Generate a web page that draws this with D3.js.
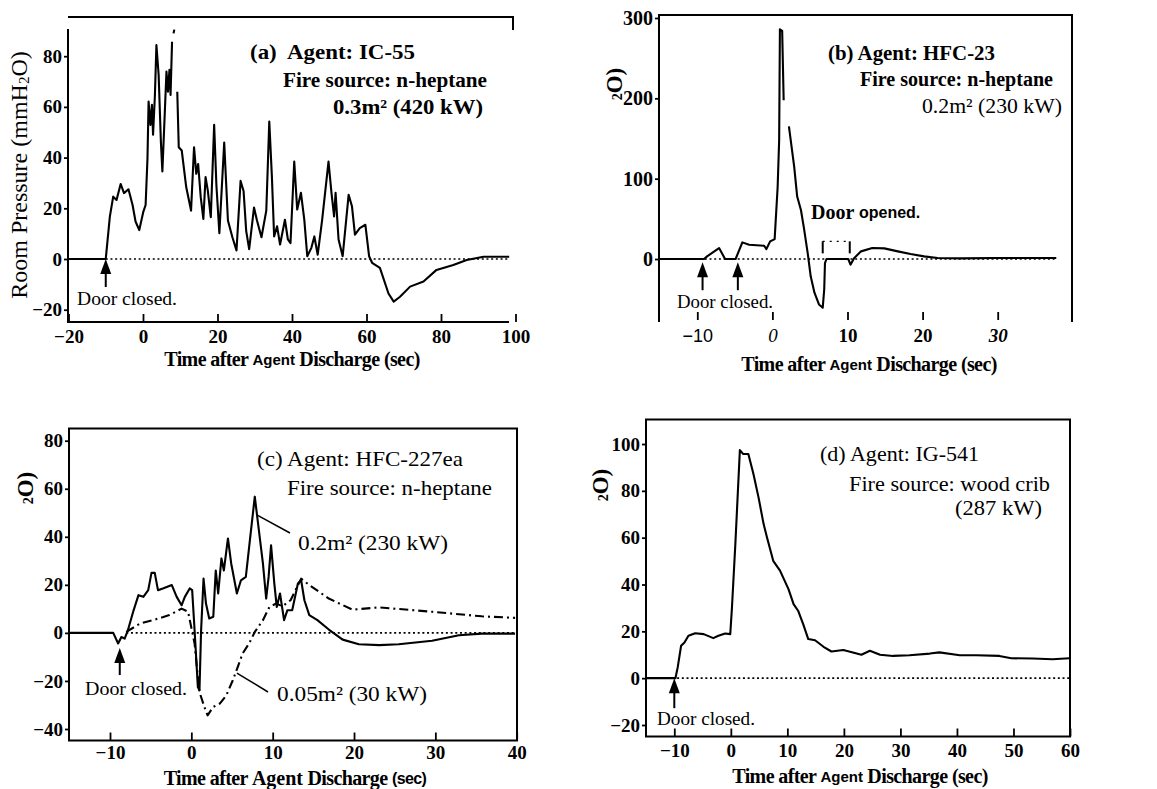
<!DOCTYPE html>
<html>
<head>
<meta charset="utf-8">
<script src="https://cdn.jsdelivr.net/npm/d3@7"></script>
<style>
  body { margin: 0; background: #fff; }
  svg { display: block; background: #fff; }
</style>
</head>
<body>
<svg id="chart" width="1157" height="789"></svg>
<script>
// room pressure traces (time in sec, pressure in mmH2O)

// (a) IG-55, n-heptane 0.3 m2
const timeA = [
  -20, -10, -8.9, -8.0, -7.1, -6.0, -5.1, -3.9, -2.8, -2.0,
  -1.0, 0.1, 0.7, 1.2, 1.5, 2.0, 2.4, 2.7, 3.2, 3.6,
  4.2, 4.8, 5.2, 5.9, 6.3, 6.7, 7.1, 7.4, 7.8, 8.1,
  8.2, 8.4, 8.7, 9.2, 9.6, 10.4, 11.6, 12.9, 13.7, 14.3,
  14.8, 15.5, 16.2, 16.8, 17.4, 18.2, 19.1, 19.7, 20.5, 21.8,
  22.8, 24.0, 25.1, 26.2, 27.0, 27.7, 28.5, 29.8, 30.6, 31.8,
  33.1, 33.9, 34.6, 35.2, 36.0, 36.8, 38.1, 38.9, 39.6, 40.6,
  41.4, 42.4, 43.3, 44.1, 45.2, 46.0, 46.9, 48.1, 49.8, 50.6,
  51.3, 51.7, 52.5, 53.6, 55.2, 56.1, 56.9, 58.2, 59.7, 60.7,
  61.5, 63.6, 65.9, 67.3, 69.0, 71.7, 75.3, 78.8, 83.3, 86.9,
  91.4, 98.3
];
const pressA = [
  0, 0, 16.7, 24.6, 23.3, 29.6, 26, 27.5, 21.3, 14.8,
  11.4, 18.7, 21.3, 39.6, 62.1, 52.9, 60.8, 49, 64.7, 84.4,
  72.6, 46.3, 34.5, 59.5, 73.9, 66, 74.6, 64.7, 85.7, null,
  89, 90.5, null, 66, 44.1, 42.8, 28.4, 19.1, 44.1, 33.6,
  37.5, 24.4, 15.8, 32.3, 27, 16.5, 52.9, 29.2, 10.2, 45.9,
  15.2, 8.6, 3.4, 30.8, 26.8, 11.1, 3.9, 20.3, 15.2, 8.6,
  19.1, 54.2, 32.5, 8.9, 12.9, 5.7, 15.5, 7.7, 6.3, 38.4,
  19.5, 26.1, 15.5, 1.1, 4.4, 8.9, 1.7, 15.5, 38.4, 26.1,
  16.8, 26.1, 7.7, 1.1, 25.3, 20.8, 9.6, 12.2, 13.5, 1.1,
  -1.5, -3.5, -13.6, -16.8, -14.9, -10.9, -8.9, -4.3, -2.4, -0.4,
  0.9, 0.9
];

// (b) HFC-23, n-heptane 0.2 m2
const timeB = [
  -15, -9.1, -8.7, -7.1, -6.3, -4.9, -4.0, -3.1, -1.1, -0.8,
  -0.3, 0.3, 0.7, 0.9, 1.0, 1.3, 1.5, 1.9, 2.2, 2.9,
  3.3, 3.8, 4.2, 4.7, 5.1, 5.6, 6.2, 6.7, 6.9, 7.0,
  7.2, 7.6, 10.1, 10.4, 10.9, 11.8, 13.3, 14.9, 16.7, 18.4,
  20.2, 22.0, 25.1, 29.6, 37.8
];
const pressB = [
  0, 0, 3.3, 13.6, 0, 0, 20.7, 17.8, 16.5, 12.4,
  21.9, 24.8, 90, 148, 286, 284, 197.5, null, 165, 115,
  77.7, 61, 38.4, 7.4, -21.5, -42, -56.6, -60.7, -38, -5,
  0, 0, 0, -7, 1.2, 9.5, 13.6, 13.2, 9.5, 6.2,
  3.3, 1.2, 0.8, 1.2, 1.2
];

// (c) HFC-227ea, 0.2 m2 (230 kW) solid
const timeC1 = [
  -15, -9.6, -9.0, -8.6, -8.2, -7.8, -7.1, -6.5, -5.9, -5.3,
  -4.9, -4.5, -4.1, -3.5, -2.4, -1.8, -1.2, -0.8, -0.2, 0.1,
  0.4, 0.8, 1.0, 1.2, 1.5, 1.8, 2.2, 2.7, 3.0, 3.3,
  3.7, 4.0, 4.5, 4.9, 5.6, 6.1, 6.7, 7.2, 7.8, 8.2,
  8.8, 9.2, 9.5, 9.8, 10.2, 10.5, 10.9, 11.4, 11.8, 12.4,
  13.1, 13.5, 13.9, 14.5, 15.5, 16.9, 18.6, 20.6, 23.1, 25.5,
  29.6, 32.9, 35.7, 39.8
];
const pressC1 = [
  0, 0, -4.4, -1.7, -2.4, 1.1, 9.4, 15.7, 15, 17.8,
  25, 25, 17.8, 18.5, 19.9, 15, 11.5, 15, 18.5, 17.8,
  1.1, -22.5, -23.9, 1.1, 22.6, 12.2, 6, 6.7, 26, 16.4,
  31, 26, 39.3, 28.9, 16.4, 21.9, 23.3, 38.6, 56.7, 45.6,
  28.9, 14.3, 23.3, 36.5, 20.6, 10.8, 16.4, 5.3, 9.4, 9.4,
  20.6, 21.9, 13.6, 7.4, 5.3, 1.4, -2.8, -4.7, -5.1, -4.7,
  -3.3, -1, -0.3, -0.3
];

// (c) HFC-227ea, 0.05 m2 (30 kW) dash-dot
const timeC2 = [
  -8.0, -6.3, -4.7, -2.7, -1.2, -0.4, 0.4, 0.8, 1.0, 1.6,
  2.0, 2.7, 3.5, 4.3, 5.1, 5.7, 6.3, 7.1, 7.8, 8.8,
  9.6, 10.4, 11.2, 12.2, 13.5, 14.5, 16.9, 19.8, 23.1, 29.6,
  35.7, 39.8
];
const pressC2 = [
  0.4, 3.9, 5.3, 7.4, 10.1, 8.8, -4.4, -18.3, -24.6, -30.8,
  -34.3, -30.8, -29.4, -26, -19.7, -14.2, -8.6, -4.4, 0.4, 5.3,
  10.8, 12.2, 11.1, 13.6, 22.6, 19.9, 14.3, 9.7, 10.6, 8.8,
  6.9, 6.25
];

// (d) IG-541, wood crib 287 kW
const timeD = [
  -15, -9.8, -9.4, -8.8, -8.2, -7.5, -6.3, -4.8, -3.1, -2.2,
  -1.0, -0.1, 0.2, 0.8, 1.6, 2.2, 3.1, 4.0, 4.9, 5.8,
  6.4, 7.5, 8.7, 10.2, 11.1, 11.9, 12.8, 13.7, 14.9, 16.4,
  17.8, 19.9, 21.6, 23.1, 24.6, 26.4, 28.7, 31.6, 35.2, 36.9,
  40.5, 43.4, 47.5, 49.6, 53.4, 56.9, 59.9
];
const pressD = [
  0, 0, 4.6, 13.8, 15.2, 18.1, 19.2, 18.8, 17.1, 18.1,
  19.1, 18.8, 30.2, 57.3, 97.4, 95.7, 95.7, 87.2, 77.2, 65.8,
  60.1, 50.1, 45.9, 38, 31.6, 28.8, 23.1, 16.7, 16.2, 13.4,
  11.4, 12, 11, 10, 11.7, 10, 9.5, 9.8, 10.5, 11,
  9.8, 9.8, 9.5, 8.5, 8.4, 8.1, 8.5
];

// tick labels
const xTicksA = [-20, 0, 20, 40, 60, 80, 100];
const yTicksA = [-20, 0, 20, 40, 60, 80];
const xTicksB = [-10, 0, 10, 20, 30];
const yTicksB = [0, 100, 200, 300];
const xTicksC = [-10, 0, 10, 20, 30, 40];
const yTicksC = [-40, -20, 0, 20, 40, 60, 80];
const xTicksD = [-10, 0, 10, 20, 30, 40, 50, 60];
const yTicksD = [-20, 0, 20, 40, 60, 80, 100];

const serif = '"Liberation Serif", "Times New Roman", serif';
const sans = '"Liberation Sans", Arial, sans-serif';
const svg = d3.select('#chart');

function zip(t, v) {
  return t.map((d, i) => [d, v[i]]);
}

function trace(g, x, y, t, v, dash) {
  const line = d3.line()
    .defined(d => d[1] !== null)
    .x(d => x(d[0]))
    .y(d => y(d[1]));
  g.append('path')
    .datum(zip(t, v))
    .attr('d', line)
    .attr('fill', 'none')
    .attr('stroke', '#000')
    .attr('stroke-width', 2.1)
    .attr('stroke-linejoin', 'round')
    .attr('stroke-dasharray', dash || null);
}

function zeroLine(g, x, y, t0, t1) {
  g.append('line')
    .attr('x1', x(t0)).attr('x2', x(t1))
    .attr('y1', y(0)).attr('y2', y(0))
    .attr('stroke', '#000')
    .attr('stroke-width', 1.6)
    .attr('stroke-dasharray', '2,2.7');
}

function arrow(g, x, y, t, v, len) {
  const px = x(t), py = y(v);
  g.append('path')
    .attr('d', `M${px},${py}L${px - 5.5},${py + 15}L${px + 5.5},${py + 15}Z`)
    .attr('fill', '#000');
  g.append('line')
    .attr('x1', px).attr('x2', px)
    .attr('y1', py + 12).attr('y2', py + len)
    .attr('stroke', '#000').attr('stroke-width', 2);
}

function seg(g, x1, y1, x2, y2, w) {
  g.append('line')
    .attr('x1', x1).attr('y1', y1).attr('x2', x2).attr('y2', y2)
    .attr('stroke', '#000').attr('stroke-width', w || 2);
}

// len: width the scanned text takes in the reference
function txt(g, px, py, str, size, weight, len) {
  const t = g.append('text')
    .attr('x', px).attr('y', py)
    .attr('dominant-baseline', 'central')
    .attr('font-family', serif)
    .attr('font-size', size)
    .attr('font-weight', weight || 'normal')
    .text(str);
  if (len) t.attr('textLength', len).attr('lengthAdjust', 'spacingAndGlyphs');
  return t;
}

// bottom ticks point inward (up), majors labelled
function xAxis(g, x, yPos, ticks, minor, pad, size) {
  const ax = g.append('g').attr('transform', `translate(0,${yPos})`);
  ax.call(d3.axisBottom(x).tickValues(minor).tickSize(-4).tickFormat(''));
  ax.call(d3.axisBottom(x).tickValues(ticks).tickSize(-8).tickPadding(pad));
  ax.selectAll('.domain').remove();
  ax.selectAll('line').attr('stroke', '#000').attr('stroke-width', 1.8);
  ax.selectAll('text')
    .attr('font-family', serif)
    .attr('font-size', size || 19)
    .attr('font-weight', 'bold')
    .attr('fill', '#000');
  return ax;
}

function yAxis(g, y, xPos, ticks, minor, size, weight) {
  const ax = g.append('g').attr('transform', `translate(${xPos},0)`);
  ax.call(d3.axisLeft(y).tickValues(minor).tickSize(-3).tickFormat(''));
  ax.call(d3.axisLeft(y).tickValues(ticks).tickSize(4).tickPadding(2));
  ax.selectAll('.domain').remove();
  ax.selectAll('line').attr('stroke', '#000').attr('stroke-width', 1.8);
  ax.selectAll('text')
    .attr('font-family', serif)
    .attr('font-size', size || 19)
    .attr('font-weight', weight || 'bold')
    .attr('fill', '#000');
  return ax;
}

function timeTitle(g, cx, cy, agentSans) {
  const t = g.append('text')
    .attr('x', cx).attr('y', cy)
    .attr('text-anchor', 'middle')
    .attr('dominant-baseline', 'central')
    .attr('font-weight', 'bold')
    .attr('letter-spacing', -0.6);
  t.append('tspan').attr('font-family', serif).attr('font-size', 20).text('Time after ');
  t.append('tspan').attr('font-family', agentSans ? sans : serif)
    .attr('font-size', agentSans ? 15 : 20).attr('letter-spacing', 0).text('Agent');
  t.append('tspan').attr('font-family', serif).attr('font-size', 20).text(' Discharge ');
  t.append('tspan').attr('font-family', agentSans ? serif : sans)
    .attr('font-size', agentSans ? 20 : 16).text('(sec)');
}

function unitStub(g, px, py) {
  const t = g.append('text')
    .attr('transform', `translate(${px},${py}) rotate(-90)`)
    .attr('text-anchor', 'middle')
    .attr('dominant-baseline', 'central')
    .attr('font-family', serif)
    .attr('font-size', 23)
    .attr('font-weight', 'bold');
  t.append('tspan').attr('font-size', 14).attr('dy', 3).text('2');
  t.append('tspan').attr('dy', -3).text('O)');
}

function minorOf(dom, step) {
  return d3.range(Math.ceil(dom[0] / step) * step, dom[1] + 0.001, step);
}

// ---------- (a) ----------
{
  const g = svg.append('g');
  const x = d3.scaleLinear().domain([-20, 100]).range([68.5, 515.5]);
  const y = d3.scaleLinear().domain([-20, 80]).range([309.7, 56.2]);

  seg(g, 68, 29, 68, 323);
  seg(g, 67, 322, 509, 322);
  seg(g, 68, 17, 514, 17);
  seg(g, 513, 16, 513, 30);

  xAxis(g, x, 322, xTicksA, minorOf([-20, 98], 5), 8);
  yAxis(g, y, 68, yTicksA, minorOf([-24, 90], 10));

  zeroLine(g, x, y, -10, 98.5);
  trace(g, x, y, timeA, pressA);
  arrow(g, x, y, -10, 0, 28);

  txt(g, 250, 52, '(a)\u00a0 Agent: IC-55', 21, 'bold', 165);
  txt(g, 283, 80, 'Fire source: n-heptane', 21, 'bold', 204);
  txt(g, 333, 107, '0.3m² (420 kW)', 21, 'bold', 150);
  txt(g, 77, 298, 'Door closed.', 19, 'normal', 100);

  const yt = g.append('text')
    .attr('transform', 'translate(19,175) rotate(-90)')
    .attr('text-anchor', 'middle')
    .attr('dominant-baseline', 'central')
    .attr('font-family', serif)
    .attr('font-size', 24);
  yt.append('tspan').text('Room Pressure (mmH');
  yt.append('tspan').attr('font-size', 15).attr('dy', 5).text('2');
  yt.append('tspan').attr('dy', -5).text('O)');

  timeTitle(g, 292, 359, true);
}

// ---------- (b) ----------
{
  const g = svg.append('g');
  const x = d3.scaleLinear().domain([-10, 30]).range([697.3, 997.7]);
  const y = d3.scaleLinear().domain([0, 300]).range([259, 18]);

  seg(g, 659, 15, 659, 322);
  seg(g, 658, 15, 1073, 15);
  seg(g, 1072, 15, 1072, 322);

  const ax = xAxis(g, x, 320, xTicksB, minorOf([-15, 38], 5), 9, 19);
  ax.selectAll('text').each(function (d) {
    const s = d3.select(this);
    if (d === -10) s.attr('font-family', sans).attr('font-weight', 'normal').attr('font-size', 18);
    if (d === 0) s.attr('font-weight', 'normal').attr('font-style', 'italic');
    if (d === 30) s.attr('font-style', 'italic');
  });
  yAxis(g, y, 659, yTicksB, minorOf([-78, 300], 20), 20);

  zeroLine(g, x, y, -9, 37.8);
  trace(g, x, y, timeB, pressB);
  arrow(g, x, y, -9.3, -4, 28);
  arrow(g, x, y, -4.6, -4, 28);

  // door opened bracket
  const doorOpen = [6.7, 10.3];
  doorOpen.forEach(t => seg(g, x(t), y(22), x(t), y(7), 2));
  g.append('line')
    .attr('x1', x(doorOpen[0])).attr('x2', x(doorOpen[1]))
    .attr('y1', y(22)).attr('y2', y(22))
    .attr('stroke', '#000').attr('stroke-width', 1.2)
    .attr('stroke-dasharray', '2,5');

  txt(g, 828, 53, '(b) Agent: HFC-23', 21, 'bold', 167);
  txt(g, 860, 79, 'Fire source: n-heptane', 20, 'bold', 193);
  txt(g, 922, 106, '0.2m² (230 kW)', 21, 'normal', 140);
  const dOpen = g.append('text')
    .attr('x', 811).attr('y', 212)
    .attr('dominant-baseline', 'central')
    .attr('font-weight', 'bold');
  dOpen.append('tspan').attr('font-family', serif).attr('font-size', 20).text('Door ');
  dOpen.append('tspan').attr('font-family', sans).attr('font-size', 16).text('opened.');
  txt(g, 677, 302, 'Door closed.', 18, 'normal', 96);

  unitStub(g, 614, 84);
  timeTitle(g, 869, 364, true);
}

// ---------- (c) ----------
{
  const g = svg.append('g');
  const x = d3.scaleLinear().domain([-10, 40]).range([110, 516.7]);
  const y = d3.scaleLinear().domain([-40, 80]).range([729, 440.7]);

  g.append('rect')
    .attr('x', 69).attr('y', 428.5).attr('width', 448).attr('height', 312)
    .attr('fill', 'none').attr('stroke', '#000').attr('stroke-width', 2);

  xAxis(g, x, 740.5, xTicksC, minorOf([-15, 40], 5), 5);
  yAxis(g, y, 69, yTicksC, minorOf([-45, 85], 10));

  zeroLine(g, x, y, -8, 40);
  trace(g, x, y, timeC1, pressC1);
  trace(g, x, y, timeC2, pressC2, '9,4,2,4');
  arrow(g, x, y, -8.8, -6.3, 27);

  // leader lines to the two labels
  seg(g, x(8.1), y(49), 290, 533, 1.5);
  seg(g, x(5.6), y(-16.7), 268, 692, 1.5);

  txt(g, 257, 458, '(c) Agent: HFC-227ea', 22, 'normal', 206);
  txt(g, 287, 487, 'Fire source: n-heptane', 22, 'normal', 205);
  txt(g, 298, 542, '0.2m² (230 kW)', 22, 'normal', 150);
  txt(g, 277, 693, '0.05m² (30 kW)', 22, 'normal', 150);
  txt(g, 85, 688, 'Door closed.', 19, 'normal', 102);

  unitStub(g, 25, 488);
  timeTitle(g, 295, 778, false);
}

// ---------- (d) ----------
{
  const g = svg.append('g');
  const x = d3.scaleLinear().domain([-10, 60]).range([674.3, 1070]);
  const y = d3.scaleLinear().domain([-20, 100]).range([725, 444]);

  g.append('rect')
    .attr('x', 646).attr('y', 419.5).attr('width', 424).attr('height', 317)
    .attr('fill', 'none').attr('stroke', '#000').attr('stroke-width', 2);

  xAxis(g, x, 736.5, xTicksD, minorOf([-15, 60], 5), 7, 19);
  yAxis(g, y, 646, yTicksD, minorOf([-25, 110], 10), 19);

  zeroLine(g, x, y, -9.5, 60);
  trace(g, x, y, timeD, pressD);
  arrow(g, x, y, -10, 0, 30);

  txt(g, 820, 453, '(d) Agent: IG-541', 22, 'normal', 159);
  txt(g, 849, 483, 'Fire source: wood crib', 22, 'normal', 201);
  txt(g, 955, 507, '(287 kW)', 22, 'normal', 87);
  txt(g, 657, 718, 'Door closed.', 19, 'normal', 98);

  unitStub(g, 600, 485);
  timeTitle(g, 860, 776, true);
}
</script>
</body>
</html>
